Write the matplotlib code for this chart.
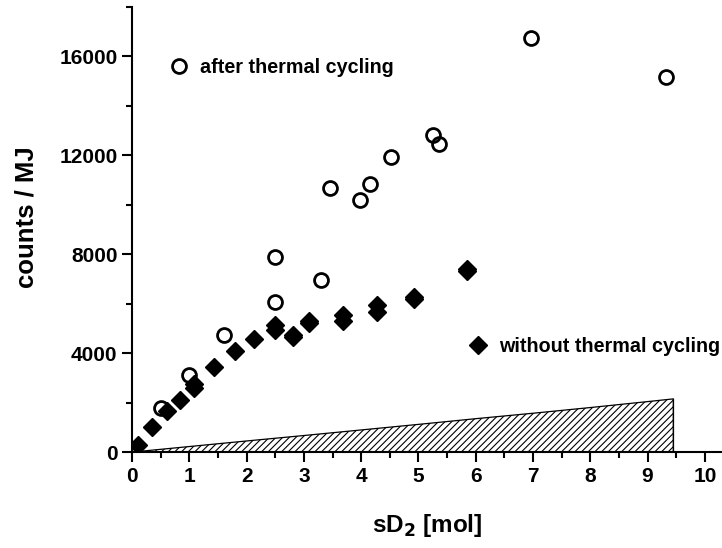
import matplotlib
matplotlib.use("Agg")
import matplotlib.pyplot as plt
from matplotlib.ticker import MultipleLocator

plt.rcParams['font.family'] = ['Liberation Sans', 'DejaVu Sans']
plt.rcParams['font.weight'] = 'bold'
plt.rcParams['hatch.linewidth'] = 0.8

# after thermal cycling (open circles)
after_x = [0.5, 1.0, 1.6, 2.5, 2.5, 3.3, 3.46, 3.98, 4.15, 4.52, 5.25, 5.36, 6.96, 9.33]
after_y = [1800, 3100, 4750, 7900, 6050, 6950, 10650, 10200, 10850, 11920, 12800, 12450, 16750, 15150]

# without thermal cycling (filled diamonds)
without_x = [0.1, 0.35, 0.61, 0.84, 1.08, 1.08, 1.43, 1.8, 2.13, 2.5, 2.5, 2.81, 2.81,
             3.09, 3.09, 3.68, 3.68, 4.27, 4.27, 4.92, 4.92, 5.85, 5.85]
without_y = [300, 1000, 1650, 2100, 2600, 2750, 3450, 4100, 4580, 5150, 4950, 4650, 4750,
             5300, 5200, 5520, 5300, 5950, 5650, 6250, 6180, 7400, 7300]

# hatched background band
band_x = [0, 1, 2, 3, 4, 5, 6, 7, 8, 9, 9.45]
band_y = [0, 225, 450, 670, 895, 1120, 1350, 1570, 1800, 2040, 2150]

fig = plt.figure(figsize=(7.22, 5.48), dpi=100)
ax = fig.add_axes([0.183, 0.175, 0.817, 0.813])

ax.fill_between(band_x, 0, band_y, facecolor='white', edgecolor='black',
                hatch='/////', linewidth=0.9, zorder=1)
ax.plot([band_x[-1], band_x[-1]], [0, band_y[-1]], color='black', lw=0.9, zorder=1)

h_with, = ax.plot(without_x, without_y, linestyle='none', marker='D', ms=9.5,
                  color='black', zorder=3)
h_after, = ax.plot(after_x, after_y, linestyle='none', marker='o', ms=10,
                   mfc='none', mec='black', mew=2, zorder=4)

leg_kw = dict(loc='center left', bbox_transform=ax.transData, frameon=False,
              handlelength=0.8, handletextpad=0.65, borderpad=0.4,
              prop={'size': 14.2, 'weight': 'bold'})
leg1 = ax.legend([h_after], ['after thermal cycling'],
                 bbox_to_anchor=(0.37, 15550), **leg_kw)
ax.add_artist(leg1)
ax.legend([h_with], ['without thermal cycling'],
          bbox_to_anchor=(5.6, 4280), **leg_kw)

ax.set_xlim(0, 10.3)
ax.set_ylim(0, 18000)
ax.xaxis.set_major_locator(MultipleLocator(1))
ax.xaxis.set_minor_locator(MultipleLocator(0.5))
ax.yaxis.set_major_locator(MultipleLocator(4000))
ax.yaxis.set_minor_locator(MultipleLocator(2000))
ax.tick_params(which='major', direction='out', length=7, width=1.5, labelsize=15)
ax.tick_params(which='minor', direction='out', length=4, width=1.5)
for lab in ax.get_xticklabels() + ax.get_yticklabels():
    lab.set_fontweight('bold')

ax.spines['top'].set_visible(False)
ax.spines['right'].set_visible(False)
ax.spines['left'].set_linewidth(1.5)
ax.spines['bottom'].set_linewidth(1.5)

ax.set_xlabel(r'sD$_\mathbf{2}$ [mol]', fontsize=17.5, fontweight='bold', labelpad=19)
ax.set_ylabel('counts / MJ', fontsize=18.5, fontweight='bold')
ax.yaxis.set_label_coords(-0.158, 0.527)

fig.savefig('out.png', dpi=100)
